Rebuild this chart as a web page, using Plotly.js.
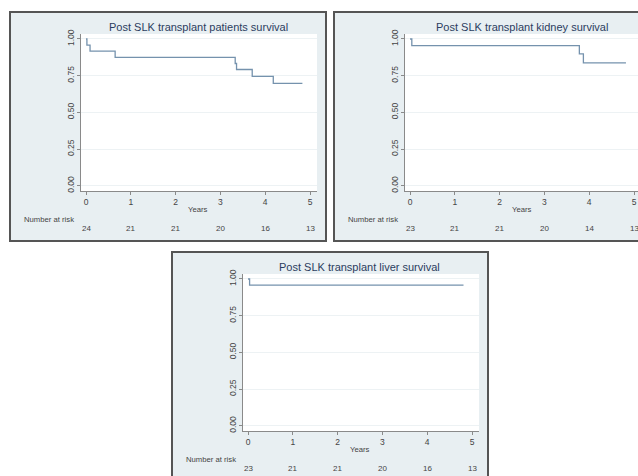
<!DOCTYPE html>
<html>
<head>
<meta charset="utf-8">
<script src="https://cdn.plot.ly/plotly-3.0.1.min.js"></script>
<style>html,body{margin:0;padding:0;background:#fff;}#chart{width:638px;height:476px;}</style>
</head>
<body>
<div id="chart"></div>
<script>
// ---- data ----
const titles = ["Post SLK transplant patients survival", "Post SLK transplant kidney survival", "Post SLK transplant liver survival"];
const patientsTime = [0, 0.02, 0.09, 0.65, 3.33, 3.36, 3.71, 4.18, 4.83];
const patientsSurv = [1.0, 0.958, 0.917, 0.875, 0.833, 0.792, 0.745, 0.698, 0.698];
const kidneyTime = [0, 0.04, 3.78, 3.87, 4.82];
const kidneySurv = [1.0, 0.955, 0.898, 0.837, 0.837];
const liverTime = [0, 0.035, 4.81];
const liverSurv = [1.0, 0.958, 0.958];
const riskTimes = [0, 1, 2, 3, 4, 5];
const patientsRisk = [24, 21, 21, 20, 16, 13];
const kidneyRisk = [23, 21, 21, 20, 14, 13];
const liverRisk = [23, 21, 21, 20, 16, 13];
const yTickVals = [0, 0.25, 0.5, 0.75, 1];
const xTickVals = [0, 1, 2, 3, 4, 5];

// ---- layout helpers ----
const W = 638, H = 476;
const X = px => px / W;
const Y = py => 1 - py / H;
const offsets = [[0, 0], [324, 0], [162, 240]];
const series = [[patientsTime, patientsSurv, patientsRisk], [kidneyTime, kidneySurv, kidneyRisk], [liverTime, liverSurv, liverRisk]];

const lineColor = '#7592ad', titleColor = '#2b3d60', textColor = '#444444', axisColor = '#8a8a8a';
const fontFam = '"Liberation Sans", Arial, sans-serif';
const xr0 = -0.112, unitX = 236 / (5.156 + 0.112);

const data = [], shapes = [], annotations = [];
const layout = {
  width: W, height: H, margin: {l: 0, r: 0, t: 0, b: 0},
  paper_bgcolor: '#ffffff', plot_bgcolor: 'rgba(0,0,0,0)',
  showlegend: false, font: {family: fontFam, color: textColor, size: 8}
};

offsets.forEach(([dx, dy], i) => {
  const sfx = i === 0 ? '' : String(i + 1);
  const xa = 'xaxis' + sfx, ya = 'yaxis' + sfx;
  const xr = 'x' + sfx, yr = 'y' + sfx;
  shapes.push({type: 'rect', xref: 'paper', yref: 'paper', layer: 'below',
    x0: X(10 + dx), x1: X(326 + dx), y0: Y(241 + dy), y1: Y(12 + dy),
    fillcolor: '#e8eff2', line: {color: '#555555', width: 2}});
  const pl = 81 + dx, pr = Math.min(317 + dx, W), pt = 34 + dy, pb = 191 + dy;
  shapes.push({type: 'rect', xref: 'paper', yref: 'paper', layer: 'below',
    x0: X(pl), x1: X(pr), y0: Y(pb), y1: Y(pt), fillcolor: '#ffffff', line: {width: 0}});
  const xr1 = xr0 + (pr - pl) / unitX;
  layout[xa] = {domain: [X(pl), X(pr)], range: [xr0, xr1], anchor: yr,
    tickvals: xTickVals, ticks: 'outside', ticklen: 3, tickcolor: axisColor,
    showline: true, linecolor: axisColor, linewidth: 1, showgrid: false, zeroline: false,
    tickfont: {size: 8.5, color: textColor, family: fontFam}, fixedrange: true};
  layout[ya] = {domain: [Y(pb), Y(pt)], range: [-0.036, 1.034], anchor: xr,
    tickvals: yTickVals, tickformat: '.2f', ticks: 'outside', ticklen: 3, tickcolor: axisColor,
    tickangle: -90, showline: true, linecolor: axisColor, linewidth: 1,
    showgrid: true, gridcolor: '#edf2f4', gridwidth: 1, zeroline: false,
    tickfont: {size: 8.5, color: textColor, family: fontFam}, fixedrange: true};
  const [t, s, risk] = series[i];
  data.push({type: 'scatter', mode: 'lines', x: t, y: s, xaxis: xr, yaxis: yr,
    line: {shape: 'hv', color: lineColor, width: 1.3}, hoverinfo: 'skip'});
  annotations.push({xref: 'paper', yref: 'paper', x: X(198 + dx), y: Y(27 + dy), text: titles[i],
    showarrow: false, xanchor: 'center', yanchor: 'middle', font: {size: 11, color: titleColor, family: fontFam}});
  annotations.push({xref: xr, yref: 'paper', x: 2.5, y: Y(209 + dy), text: 'Years',
    showarrow: false, xanchor: 'center', yanchor: 'middle', font: {size: 7.7, color: textColor, family: fontFam}});
  annotations.push({xref: 'paper', yref: 'paper', x: X(22 + dx), y: Y(219.5 + dy), text: 'Number at risk',
    showarrow: false, xanchor: 'left', yanchor: 'middle', font: {size: 7.7, color: textColor, family: fontFam}});
  riskTimes.forEach((rt, k) => {
    annotations.push({xref: xr, yref: 'paper', x: rt, y: Y(228.5 + dy), text: String(risk[k]),
      showarrow: false, xanchor: 'center', yanchor: 'middle', font: {size: 8, color: textColor, family: fontFam}});
  });
});
layout.shapes = shapes;
layout.annotations = annotations;
Plotly.newPlot('chart', data, layout, {staticPlot: true, displayModeBar: false});
</script>
</body>
</html>
